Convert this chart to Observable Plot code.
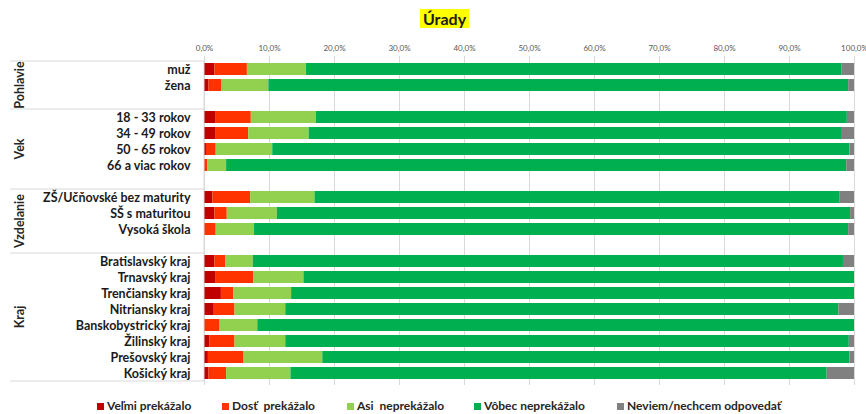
<!DOCTYPE html>
<html><head><meta charset="utf-8">
<script src="https://cdn.jsdelivr.net/npm/d3@7"></script>
<script src="https://cdn.jsdelivr.net/npm/@observablehq/plot@0.6"></script>
<style>
body{margin:0;background:#fff;font-family:Lato,"Noto Sans",sans-serif;}
#wrap{width:866px;height:414px;position:relative;overflow:hidden;background:#fff}
#title{height:36px;position:relative}
#title span{position:absolute;left:420px;top:9px;background:#ffff00;font-weight:bold;font-size:16px;padding:0 3px;line-height:19px;color:#1a1a1a}
#chart{height:358px}
#legend{position:relative;height:20px;font-size:12px;font-weight:bold;color:#262626}
#legend .it{position:absolute;top:5px;white-space:pre;line-height:14px}
.sw{display:inline-block;width:7px;height:7px;margin-right:3px;vertical-align:0px}
</style></head>
<body><div id="wrap"><div id="title"><span>Úrady</span></div><div id="chart"></div><div id="legend"></div></div>
<script>
const categories = ["muž","žena","18 - 33 rokov","34 - 49 rokov","50 - 65 rokov","66 a viac rokov","ZŠ/Učňovské bez maturity","SŠ s maturitou","Vysoká škola","Bratislavský kraj","Trnavský kraj","Trenčiansky kraj","Nitriansky kraj","Banskobystrický kraj","Žilinský kraj","Prešovský kraj","Košický kraj"];
const groupOf = ["Pohlavie","Pohlavie","Vek","Vek","Vek","Vek","Vzdelanie","Vzdelanie","Vzdelanie","Kraj","Kraj","Kraj","Kraj","Kraj","Kraj","Kraj","Kraj"];
const series = ["Veľmi prekážalo","Dosť  prekážalo","Asi  neprekážalo","Vôbec neprekážalo","Neviem/nechcem odpovedať"];
const colors = ["#C00000","#FF3300","#92D050","#00B050","#808080"];
const velmi = [1.6,0.7,1.8,1.8,0.3,0.0,1.3,1.6,0.0,1.6,1.8,2.6,1.5,0.0,0.8,0.6,0.7];
const dost  = [5.0,2.0,5.4,5.0,1.5,0.5,5.8,1.9,1.8,1.7,5.8,1.9,3.2,2.4,3.9,5.4,2.7];
const asi   = [9.1,7.2,10.0,9.3,8.7,2.9,9.9,7.7,5.9,4.2,7.7,8.9,7.8,5.8,7.8,12.2,9.9];
const vobec = [82.4,89.2,81.7,81.9,88.8,95.4,80.8,88.2,91.4,90.8,84.7,86.6,85.1,91.8,86.7,81.1,82.5];
const neviem= [1.9,0.9,1.1,2.0,0.7,1.2,2.2,0.6,0.9,1.7,0.0,0.0,2.4,0.0,0.8,0.7,4.2];
const xTicks = [0,10,20,30,40,50,60,70,80,90,100];

const valuesBySeries = [velmi,dost,asi,vobec,neviem];
const rows = [];
series.forEach((s,si)=>categories.forEach((c,ci)=>rows.push({cat:c, series:s, value:valuesBySeries[si][ci]})));

// y domain with spacer rows between groups
const yDomain = [];
const groupNames = [];
let spacer = 0;
categories.forEach((c,i)=>{
  if (i>0 && groupOf[i]!==groupOf[i-1]) { spacer++; yDomain.push(" ".repeat(spacer)); }
  if (!groupNames.includes(groupOf[i])) groupNames.push(groupOf[i]);
  yDomain.push(c);
});

const pct = d => d.toFixed(1).replace(".", ",") + "%";

const plot = Plot.plot({
  width: 866, height: 358, marginTop: 20, marginBottom: 9, marginLeft: 204, marginRight: 12,
  x: {domain: [0,100], axis: null, label: null},
  y: {domain: yDomain, padding: 0.27, axis: null, label: null},
  color: {domain: series, range: colors},
  style: {fontFamily: "Lato, 'Noto Sans', sans-serif", background: "#fff", overflow: "visible"},
  marks: [
    Plot.gridX(xTicks, {stroke: "#d9d9d9", strokeOpacity: 1}),
    Plot.barX(rows, {y: "cat", x: "value", fill: "series"}),
    Plot.axisX(xTicks, {anchor: "top", label: null, tickSize: 0, tickPadding: 6, tickFormat: pct, fontSize: 8, fill: "#595959"}),
    Plot.axisY({anchor: "left", label: null, tickSize: 0, tickPadding: 14, fontSize: 12.5, fontWeight: "bold", fill: "#1a1a1a", tickFormat: d => d.trim()})
  ]
});
document.getElementById("chart").appendChild(plot);

// group dividers and rotated group labels, positioned from the plot's y scale
const ys = plot.scale("y");
const bw = ys.bandwidth;
const step = ys.step ?? (ys.apply(yDomain[1]) - ys.apply(yDomain[0]));
const gap = step - bw;
const svg = d3.select(plot);
const g = svg.append("g");
groupNames.forEach((gn, gi)=>{
  const cats = categories.filter((c,i)=>groupOf[i]===gn);
  const top = ys.apply(cats[0]) - gap/2;
  let bottom;
  if (gi < groupNames.length-1) bottom = ys.apply(" ".repeat(gi+1)) + bw + gap/2;
  else bottom = ys.apply(cats[cats.length-1]) + bw + gap/2;
  if (gi===0) g.append("line").attr("x1",10).attr("x2",204).attr("y1",top).attr("y2",top).attr("stroke","#d9d9d9");
  g.append("line").attr("x1",10).attr("x2",204).attr("y1",bottom).attr("y2",bottom).attr("stroke","#d9d9d9");
  const cy = (top+bottom)/2;
  g.append("text").attr("transform",`translate(19,${cy}) rotate(-90)`).attr("text-anchor","middle")
    .attr("dominant-baseline","central").attr("font-size",12.5).attr("font-weight","bold").attr("fill","#262626").text(gn);
});
const yTop = ys.apply(categories[0]) - gap/2;
const yBot = ys.apply(categories[categories.length-1]) + bw + gap/2;
g.append("line").attr("x1",204).attr("x2",204).attr("y1",yTop).attr("y2",yBot).attr("stroke","#d9d9d9");

// legend
const legendX = [97,222,347,474,617];
const leg = document.getElementById("legend");
series.forEach((s,i)=>{
  const it = document.createElement("div");
  it.className="it"; it.style.left = legendX[i]+"px";
  it.innerHTML = `<span class="sw" style="background:${colors[i]}"></span>${s}`;
  leg.appendChild(it);
});
</script>
</body></html>
